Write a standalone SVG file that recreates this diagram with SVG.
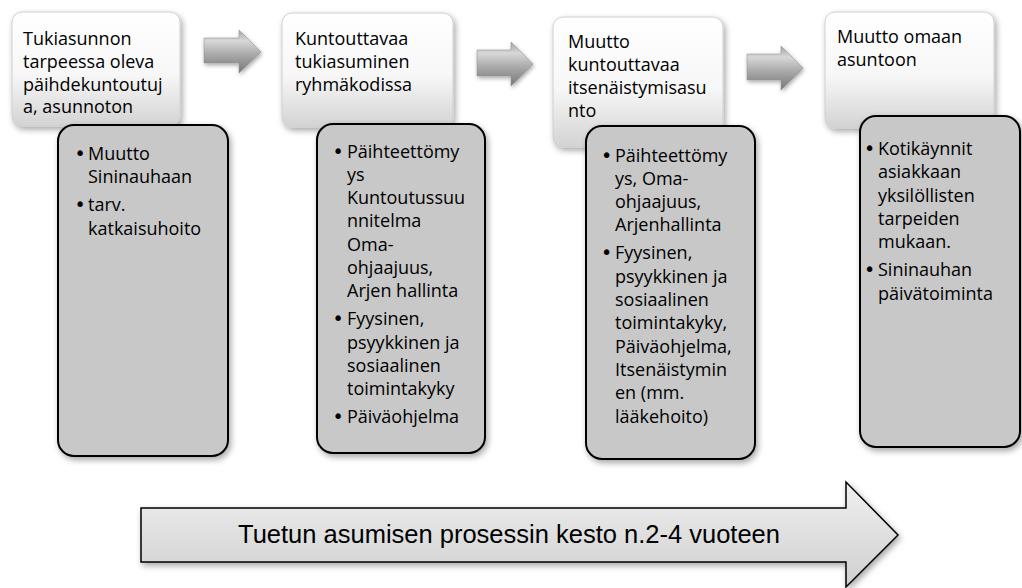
<svg xmlns="http://www.w3.org/2000/svg" width="1022" height="588" viewBox="0 0 1022 588">
<defs>
  <linearGradient id="gWhite" x1="0" y1="0" x2="0" y2="1">
    <stop offset="0" stop-color="#ffffff"/>
    <stop offset="0.55" stop-color="#f7f7f7"/>
    <stop offset="1" stop-color="#d3d3d3"/>
  </linearGradient>
  <linearGradient id="gSmall" x1="0" y1="0" x2="0" y2="1">
    <stop offset="0" stop-color="#a0a0a0"/>
    <stop offset="0.25" stop-color="#d8d8d8"/>
    <stop offset="0.55" stop-color="#acacac"/>
    <stop offset="1" stop-color="#767676"/>
  </linearGradient>
  <linearGradient id="gBig" x1="0" y1="0" x2="0" y2="1">
    <stop offset="0" stop-color="#efefef"/>
    <stop offset="1" stop-color="#d0d0d0"/>
  </linearGradient>
  <filter id="shadow" x="-20%" y="-20%" width="140%" height="150%">
    <feDropShadow dx="2" dy="3" stdDeviation="3" flood-color="#000" flood-opacity="0.35"/>
  </filter>
  <filter id="shadowS" x="-20%" y="-20%" width="150%" height="160%">
    <feDropShadow dx="1" dy="2" stdDeviation="2" flood-color="#000" flood-opacity="0.35"/>
  </filter>
</defs>
<style>
  .wbox { fill: url(#gWhite); stroke: #cfcfcf; stroke-width: 1; filter: url(#shadow); }
  .gbox { fill: #c8c8c8; stroke: #000; stroke-width: 2; filter: url(#shadow); }
  .sarrow { fill: url(#gSmall); stroke: #8c8c8c; stroke-width: 0.5; filter: url(#shadowS); }
  .bigarrow { fill: url(#gBig); stroke: #000; stroke-width: 1.5; filter: url(#shadow); }
  text { font-family: "Open Sans", "Noto Sans", "Liberation Sans", sans-serif; font-size: 18px; fill: #000; }
  .b { font-family: "DejaVu Sans", sans-serif; font-size: 19px; }
  .big { font-family: "Liberation Sans", Arial, sans-serif; font-size: 25.5px; }
</style>

<g id="connectors">
  <polygon class="sarrow" points="204,38 239,38 239,30 261,52 239,73 239,63 204,63"/>
  <polygon class="sarrow" points="477,50 511,50 511,42 533,64 511,86 511,76 477,76"/>
  <polygon class="sarrow" points="747,54 781,54 781,46 803,68 781,90 781,80 747,80"/>
</g>

<g id="step1">
  <rect class="wbox" x="12" y="12" width="168" height="114" rx="10"/>
  <text x="23" y="45">Tukiasunnon</text>
  <text x="23" y="68">tarpeessa oleva</text>
  <text x="23" y="90.5">päihdekuntoutuj</text>
  <text x="23" y="113">a, asunnoton</text>
</g>
<g id="detail1">
  <rect class="gbox" x="58" y="125" width="170" height="331" rx="16"/>
  <text class="b" x="74.5" y="160">•</text><text x="88" y="160">Muutto</text>
  <text x="88" y="183.3">Sininauhaan</text>
  <text class="b" x="74.5" y="211.3">•</text><text x="88" y="211.3">tarv.</text>
  <text x="88" y="234.6">katkaisuhoito</text>
</g>

<g id="step2">
  <rect class="wbox" x="282" y="13" width="171" height="114" rx="10"/>
  <text x="295" y="45">Kuntouttavaa</text>
  <text x="295" y="68">tukiasuminen</text>
  <text x="295" y="91">ryhmäkodissa</text>
</g>
<g id="detail2">
  <rect class="gbox" x="317" y="124" width="168" height="329" rx="16"/>
  <text class="b" x="332.5" y="157.5">•</text><text x="347" y="157.5">Päihteettömy</text>
  <text x="347" y="180.8">ys</text>
  <text x="347" y="204.1">Kuntoutussuu</text>
  <text x="347" y="227.4">nnitelma</text>
  <text x="347" y="250.7">Oma-</text>
  <text x="347" y="274">ohjaajuus,</text>
  <text x="347" y="297.3">Arjen hallinta</text>
  <text class="b" x="332.5" y="325.3">•</text><text x="347" y="325.3">Fyysinen,</text>
  <text x="347" y="348.6">psyykkinen ja</text>
  <text x="347" y="371.9">sosiaalinen</text>
  <text x="347" y="395.2">toimintakyky</text>
  <text class="b" x="332.5" y="423.2">•</text><text x="347" y="423.2">Päiväohjelma</text>
</g>

<g id="step3">
  <rect class="wbox" x="553" y="17" width="170" height="130" rx="10"/>
  <text x="568" y="48">Muutto</text>
  <text x="568" y="71">kuntouttavaa</text>
  <text x="568" y="94">itsenäistymisasu</text>
  <text x="568" y="117">nto</text>
</g>
<g id="detail3">
  <rect class="gbox" x="586" y="126" width="169" height="333" rx="16"/>
  <text class="b" x="601" y="161.5">•</text><text x="615" y="161.5">Päihteettömy</text>
  <text x="615" y="184.8">ys, Oma-</text>
  <text x="615" y="208.1">ohjaajuus,</text>
  <text x="615" y="231.4">Arjenhallinta</text>
  <text class="b" x="601" y="259.4">•</text><text x="615" y="259.4">Fyysinen,</text>
  <text x="615" y="282.7">psyykkinen ja</text>
  <text x="615" y="306">sosiaalinen</text>
  <text x="615" y="329.3">toimintakyky,</text>
  <text x="615" y="352.6">Päiväohjelma,</text>
  <text x="615" y="375.9">Itsenäistymin</text>
  <text x="615" y="399.2">en (mm.</text>
  <text x="615" y="422.5">lääkehoito)</text>
</g>

<g id="step4">
  <rect class="wbox" x="825" y="12" width="169" height="116" rx="10"/>
  <text x="837" y="43">Muutto omaan</text>
  <text x="837" y="66">asuntoon</text>
</g>
<g id="detail4">
  <rect class="gbox" x="860" y="116" width="160" height="331" rx="16"/>
  <text class="b" x="864" y="155">•</text><text x="878" y="155">Kotikäynnit</text>
  <text x="878" y="178.3">asiakkaan</text>
  <text x="878" y="201.6">yksilöllisten</text>
  <text x="878" y="224.9">tarpeiden</text>
  <text x="878" y="248.2">mukaan.</text>
  <text class="b" x="864" y="276.2">•</text><text x="878" y="276.2">Sininauhan</text>
  <text x="878" y="299.5">päivätoiminta</text>
</g>

<g id="duration">
  <polygon class="bigarrow" points="141,508 846,508 846,482 898,535 846,587 846,562 141,562"/>
  <text class="big" x="509" y="543" text-anchor="middle">Tuetun asumisen prosessin kesto n.2-4 vuoteen</text>
</g>
</svg>
